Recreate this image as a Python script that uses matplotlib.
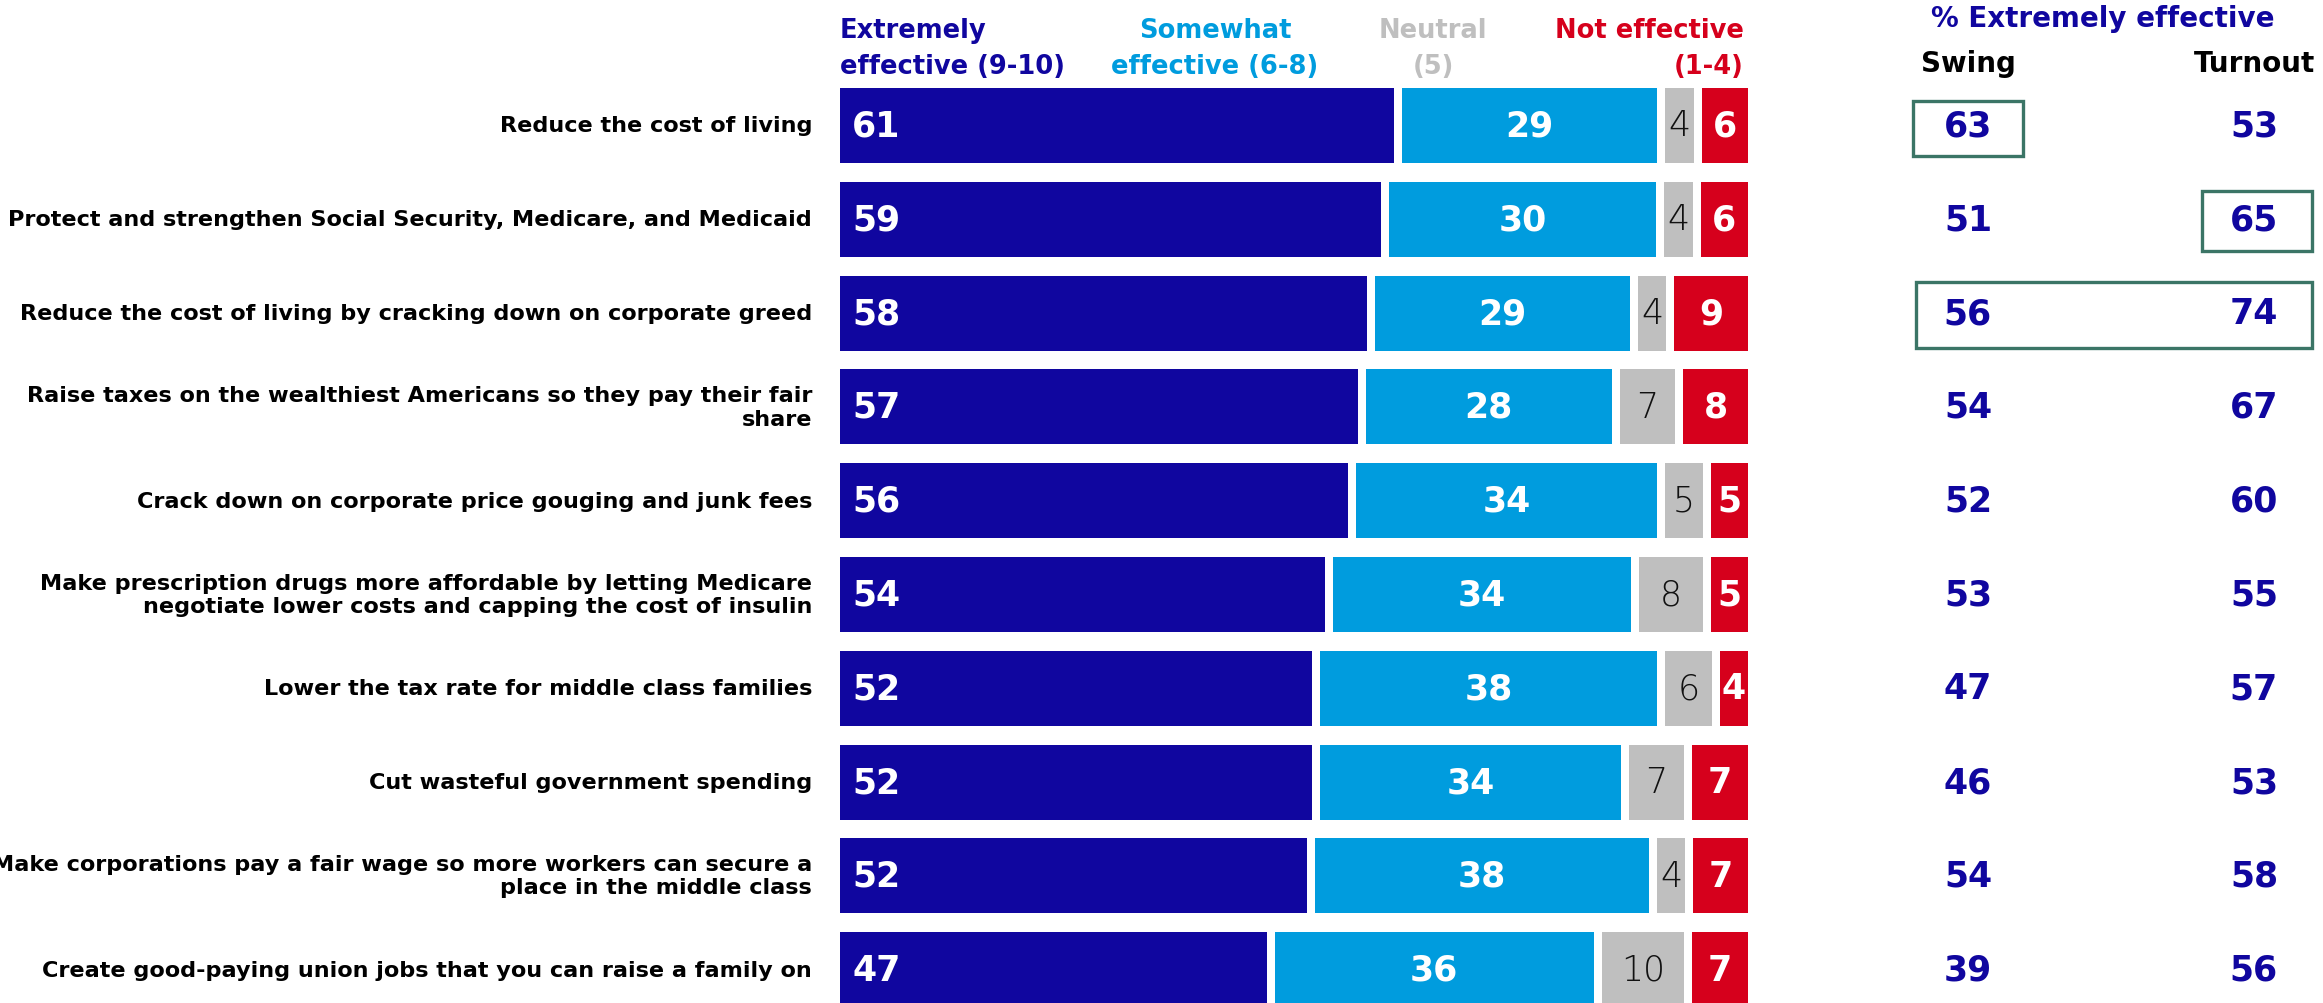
import numpy as np
import matplotlib
matplotlib.use("Agg")
import matplotlib.pyplot as plt
from matplotlib.patches import Rectangle
from matplotlib.transforms import blended_transform_factory

# ---- data -------------------------------------------------------------
categories = [
    "Reduce the cost of living",
    "Protect and strengthen Social Security, Medicare, and Medicaid",
    "Reduce the cost of living by cracking down on corporate greed",
    "Raise taxes on the wealthiest Americans so they pay their fair\nshare",
    "Crack down on corporate price gouging and junk fees",
    "Make prescription drugs more affordable by letting Medicare\nnegotiate lower costs and capping the cost of insulin",
    "Lower the tax rate for middle class families",
    "Cut wasteful government spending",
    "Make corporations pay a fair wage so more workers can secure a\nplace in the middle class",
    "Create good-paying union jobs that you can raise a family on",
]
extremely = [61, 59, 58, 57, 56, 54, 52, 52, 52, 47]
somewhat = [29, 30, 29, 28, 34, 34, 38, 34, 38, 36]
neutral = [4, 4, 4, 7, 5, 8, 6, 7, 4, 10]
not_effective = [6, 6, 9, 8, 5, 5, 4, 7, 7, 7]
swing = [63, 51, 56, 54, 52, 53, 47, 46, 54, 39]
turnout = [53, 65, 74, 67, 60, 55, 57, 53, 58, 56]

segment_names = ["Extremely\neffective (9-10)", "Somewhat\neffective (6-8)",
                 "Neutral\n(5)", "Not effective\n(1-4)"]

# ---- style ------------------------------------------------------------
NAVY = "#10069F"
SKY = "#009CDE"
GREY = "#BFBFBF"
RED = "#D6001C"
BOX = "#3B7566"
colors = [NAVY, SKY, GREY, RED]

FONT = "DejaVu Sans"
NUM_SIZE = 25

W, H = 2323, 1004
fig = plt.figure(figsize=(W / 100, H / 100), dpi=100)

# bar area: 840..1748 px horizontally, rows 93.8 px apart, first centre at 126.5 px
x0_px, x1_px = 840, 1748
pitch, first = 93.8, 126.5
ax = fig.add_axes([x0_px / W, 0, (x1_px - x0_px) / W, 1])
ax.set_xlim(0, 100)
ax.set_ylim((H - first) / pitch, -first / pitch)
ax.axis("off")

px_per_unit = (x1_px - x0_px) / 100
gap = 8 / px_per_unit
bar_h = 75 / pitch

data = np.array([extremely, somewhat, neutral, not_effective], dtype=float).T
totals = data.sum(axis=1, keepdims=True)
shares = data / totals * 100
y = np.arange(len(categories))

for i in range(len(categories)):
    cum = 0.0
    for j in range(4):
        share = shares[i, j]
        left = cum + (gap if j > 0 else 0)
        width = share - (gap if j > 0 else 0)
        ax.barh(y[i], width, left=left, height=bar_h, color=colors[j],
                edgecolor="none")
        val = int(data[i, j])
        if j == 0:
            ax.text(left + 12 / px_per_unit, y[i], f"{val}", ha="left", va="center",
                    color="white", fontsize=NUM_SIZE, fontweight="bold", family=FONT)
        elif j == 2:
            ax.text(left + width / 2, y[i], f"{val}", ha="center", va="center",
                    color="#111111", fontsize=NUM_SIZE, fontweight="light", family=FONT)
        else:
            ax.text(left + width / 2, y[i], f"{val}", ha="center", va="center",
                    color="white", fontsize=NUM_SIZE, fontweight="bold", family=FONT)
        cum += share

# category labels, right-aligned left of the bars
lab_tr = blended_transform_factory(fig.transFigure, ax.transData)
for i, cat in enumerate(categories):
    ax.text(812 / W, y[i], cat, transform=lab_tr, ha="right", va="center",
            fontsize=16.1, fontweight="bold", family=FONT, color="black",
            linespacing=1.2)

# segment headers
head_y = 1 - 49 / H
hdr = dict(va="center", fontsize=18.5, fontweight="bold", family=FONT,
           linespacing=1.45)
fig.text(840 / W, head_y, segment_names[0], ha="left", color=NAVY, **hdr)
fig.text(1215 / W, head_y, segment_names[1], ha="center", color=SKY, **hdr)
fig.text(1433 / W, head_y, segment_names[2], ha="center", color=GREY, **hdr)
fig.text(1744 / W, head_y, segment_names[3], ha="right", color=RED,
         multialignment="right", **hdr)

# right-hand columns
swing_x, turn_x = 1968, 2254
fig.text(2103 / W, 1 - 19 / H, "% Extremely effective", ha="center", va="center",
         color=NAVY, fontsize=20, fontweight="bold", family=FONT)
fig.text(swing_x / W, 1 - 64 / H, "Swing", ha="center", va="center",
         color="black", fontsize=20, fontweight="bold", family=FONT)
fig.text(turn_x / W, 1 - 64 / H, "Turnout", ha="center", va="center",
         color="black", fontsize=20, fontweight="bold", family=FONT)
for i in range(len(categories)):
    ax.text(swing_x / W, y[i], f"{swing[i]}", transform=lab_tr, ha="center",
            va="center", color=NAVY, fontsize=NUM_SIZE, fontweight="bold", family=FONT)
    ax.text(turn_x / W, y[i], f"{turnout[i]}", transform=lab_tr, ha="center",
            va="center", color=NAVY, fontsize=NUM_SIZE, fontweight="bold", family=FONT)

# highlight boxes (figure pixels: left, top, right, bottom)
for l, t, r, b in [(1913, 102, 2023, 157), (2202, 192, 2312, 252),
                   (1916, 283, 2312, 349)]:
    fig.patches.append(Rectangle((l / W, 1 - b / H), (r - l) / W, (b - t) / H,
                                 transform=fig.transFigure, fill=False,
                                 edgecolor=BOX, linewidth=2.4))

fig.savefig("out.png", dpi=100, facecolor="white")
